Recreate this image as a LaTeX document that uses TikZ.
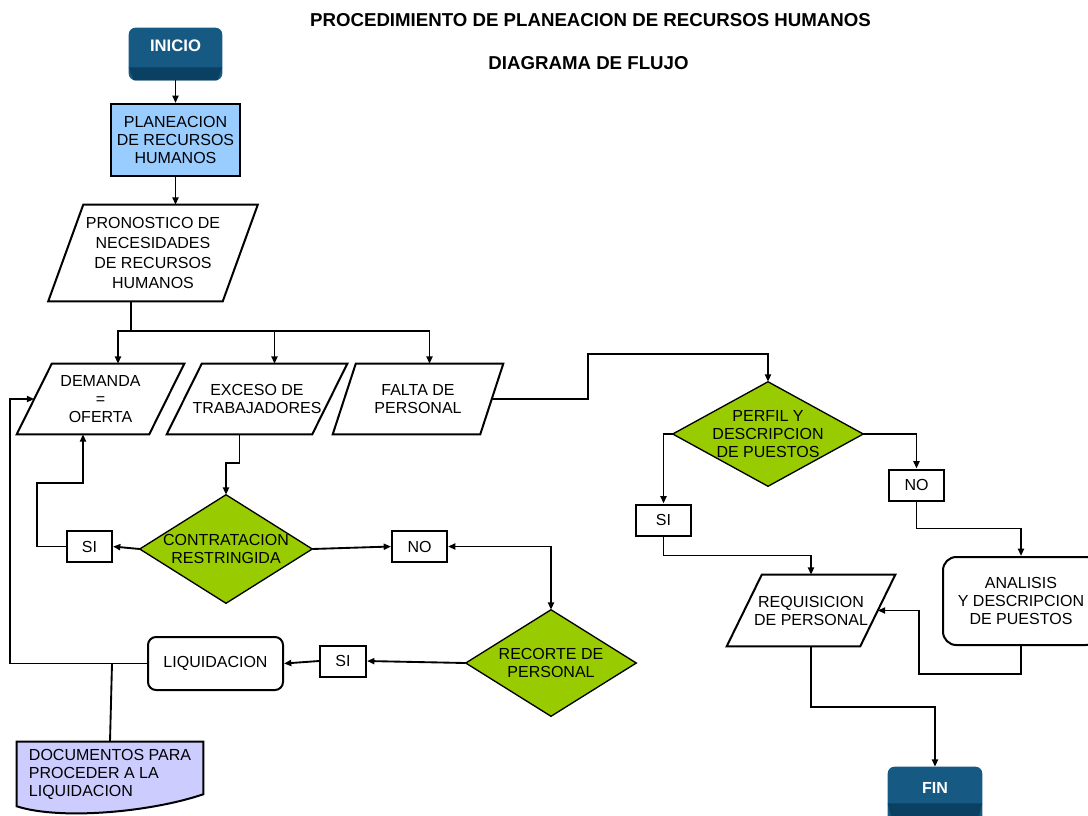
\documentclass[tikz,border=0pt]{standalone}
\usepackage{fontspec}
\setmainfont{Liberation Sans}
\usetikzlibrary{arrows.meta,calc}

\definecolor{startblue}{RGB}{22,90,132}
\definecolor{startshade}{RGB}{10,64,98}
\definecolor{planblue}{RGB}{153,204,255}
\definecolor{decgreen}{RGB}{153,204,0}
\definecolor{doclav}{RGB}{204,204,255}

\def\pxu{0.75pt}
\pgfdeclarelayer{bg}
\pgfsetlayers{bg,main}

\tikzset{
  txt/.style={font=\fontsize{12}{13.5}\selectfont, align=center, inner sep=0pt},
  hole/.style={txt, draw=none},
  title/.style={font=\bfseries\fontsize{14}{16}\selectfont, inner sep=0pt},
  termtext/.style={font=\bfseries\fontsize{12.5}{14}\selectfont, text=white, inner sep=0pt},
  procbox/.style={txt, draw, line width=1.5pt},
  answer/.style={txt, draw, line width=1.5pt, minimum height=31*\pxu},
  outline/.style={line width=1.5pt, line join=miter},
  conn/.style={line width=1.4pt},
  tip/.tip={Triangle[length=5.5pt,width=4.5pt]},
  arr/.style={conn, -tip},
  arrboth/.style={conn, tip-tip},
}

% rounded terminal with a darker bevelled band at its foot
\newcommand\terminal[2]{%
  \fill[startblue, rounded corners=5pt] (#1.north west) rectangle (#1.south east);
  \fill[startshade] ($(#1.south west)+(0,-#2)$) -- ($(#1.south east)+(0,-#2)$)
     -- ($(#1.south east)+(-5,0)$) -- ($(#1.south west)+(5,0)$) -- cycle;}

% slanted data box around a node; #2 = half of the horizontal slant
\newcommand\paraoutline[2]{%
  \draw[outline] ($(#1.north west)+(#2,0)$) -- ($(#1.north east)+(#2,0)$)
     -- ($(#1.south east)-(#2,0)$) -- ($(#1.south west)-(#2,0)$) -- cycle;
  \coordinate (#1-t) at ($(#1.north)+(#2,0)$);
  \coordinate (#1-b) at ($(#1.south)-(#2,0)$);}

% green decision diamond behind a node
\newcommand\diamondbg[1]{%
  \begin{pgfonlayer}{bg}
  \draw[fill=decgreen, line width=1pt, line join=miter]
     (#1.north) -- (#1.east) -- (#1.south) -- (#1.west) -- cycle;
  \end{pgfonlayer}}

\begin{document}
\begin{tikzpicture}[x=0.75pt,y=-0.75pt]
\useasboundingbox (0,0) rectangle (1088,815);

% headings
\node[title] (title1) at (590.5,20) {PROCEDIMIENTO DE PLANEACION DE RECURSOS HUMANOS};
\node[title] (title2) at (588.5,63) {DIAGRAMA DE FLUJO};

% start
\node[hole, minimum width=93*\pxu, minimum height=52*\pxu] (ini) at (175.5,54) {};
\terminal{ini}{13}
\node[termtext] (ini-label) at (175.5,46) {INICIO};

% planning
\node[procbox, fill=planblue, minimum width=129*\pxu, minimum height=72*\pxu] (pla)
  at (175.5,140) {PLANEACION\\DE RECURSOS\\HUMANOS};

% forecast
\node[hole, font=\fontsize{12}{14.8}\selectfont, minimum width=174*\pxu, minimum height=96*\pxu] (pro)
  at (153,253) {PRONOSTICO DE\\NECESIDADES\\DE RECURSOS\\HUMANOS};
\paraoutline{pro}{17.5}

% three situations
\node[hole, minimum width=132*\pxu, minimum height=70*\pxu] (dem) at (100.5,399) {DEMANDA\\=\\OFERTA};
\paraoutline{dem}{17.5}
\node[hole, minimum width=145*\pxu, minimum height=70*\pxu] (exc) at (257,399) {EXCESO DE\\TRABAJADORES};
\paraoutline{exc}{17.5}
\node[hole, minimum width=147*\pxu, minimum height=70*\pxu] (fal) at (418,399) {FALTA DE\\PERSONAL};
\paraoutline{fal}{11.5}

% decisions
\node[hole, minimum width=172*\pxu, minimum height=108*\pxu] (con) at (226,549) {CONTRATACION\\RESTRINGIDA};
\diamondbg{con}
\node[hole, minimum width=170*\pxu, minimum height=106*\pxu] (rec) at (551,663) {RECORTE DE\\PERSONAL};
\diamondbg{rec}
\node[hole, minimum width=190*\pxu, minimum height=104*\pxu] (per) at (768,434) {PERFIL Y\\DESCRIPCION\\DE PUESTOS};
\diamondbg{per}

% answers
\node[answer, minimum width=45*\pxu] (si1) at (89.5,546.5) {SI};
\node[answer, minimum width=55*\pxu] (no1) at (419.5,546.5) {NO};
\node[answer, minimum width=46*\pxu] (si2) at (343,661) {SI};
\node[answer, minimum width=55*\pxu] (si3) at (663.5,520) {SI};
\node[answer, minimum width=55*\pxu] (no2) at (916.5,485) {NO};

% processes
\node[procbox, rounded corners=6pt, minimum width=135*\pxu, minimum height=53*\pxu] (liq)
  at (215.5,663.5) {LIQUIDACION};
\node[procbox, rounded corners=10pt, minimum width=156*\pxu, minimum height=88*\pxu] (ana)
  at (1021,601) {ANALISIS\\Y DESCRIPCION\\DE PUESTOS};
\node[hole, minimum width=133*\pxu, minimum height=71*\pxu] (req) at (811,610.5) {REQUISICION\\DE PERSONAL};
\paraoutline{req}{17.5}

% document
\node[hole, align=left, minimum width=186*\pxu, minimum height=64*\pxu] (doc)
  at (110,774) {DOCUMENTOS PARA\\PROCEDER A LA\\LIQUIDACION};
\begin{pgfonlayer}{bg}
\draw[outline, fill=doclav] (doc.north west) -- (doc.north east) -- ($(doc.south east)+(0,-12)$)
  .. controls ($(doc.south east)+(-53,6)$) and ($(doc.south west)+(43,14)$) .. (doc.south west) -- cycle;
\end{pgfonlayer}

% end
\node[hole, minimum width=94*\pxu, minimum height=56*\pxu] (fin) at (935,795) {};
\terminal{fin}{20}
\node[termtext, font=\bfseries\fontsize{12}{14}\selectfont] (fin-label) at (935,788) {FIN};

% connectors
\coordinate (bus) at (131,331);
\coordinate (tap) at (112,663.5);
\draw[arr] (ini.south) -- (pla.north);
\draw[arr] (pla.south) -- (pla.south |- pro-t);
\draw[conn] (bus |- pro.south) -- (bus);
\draw[arr] (bus) -| (dem-t);
\draw[arr] (bus) -| (exc-t);
\draw[arr] (bus) -| (fal-t);
\draw[arr] (exc-b) -- ++(0,29) -| (con.north);
\draw[arr] (con.west) -- (si1.east);
\draw[arr] (si1.west) -- ++(-29,0) |- ($(dem-b)+(0,49)$) -- (dem-b);
\draw[arr] (con.east) -- (no1.west);
\draw[arrboth] (no1.east) -| (rec.north);
\draw[arr] (rec.west) -- (si2.east);
\draw[arr] (si2.west) -- (liq.east);
\draw[arr] (liq.west) -| ($(dem.west)+(-24,0)$) -- (dem.west);
\draw[conn] (tap) -- (doc.north);
\draw[arr] (fal.east) -- ++(96,0) |- ($(per.north)+(0,-28)$) -- (per.north);
\draw[arr] (per.west) -| (si3.north);
\draw[arr] (si3.south) -- ++(0,19) -| (req.north);
\draw[arr] (per.east) -| (no2.north);
\draw[arr] (no2.south) -- ++(0,27) -| (ana.north);
\draw[arr] (ana.south) -- ++(0,28) -| ($(req.east)+(41.5,0)$) -- (req.east);
\draw[arr] (req.south) -- ++(0,61) -| (fin.north);
\end{tikzpicture}
\end{document}
